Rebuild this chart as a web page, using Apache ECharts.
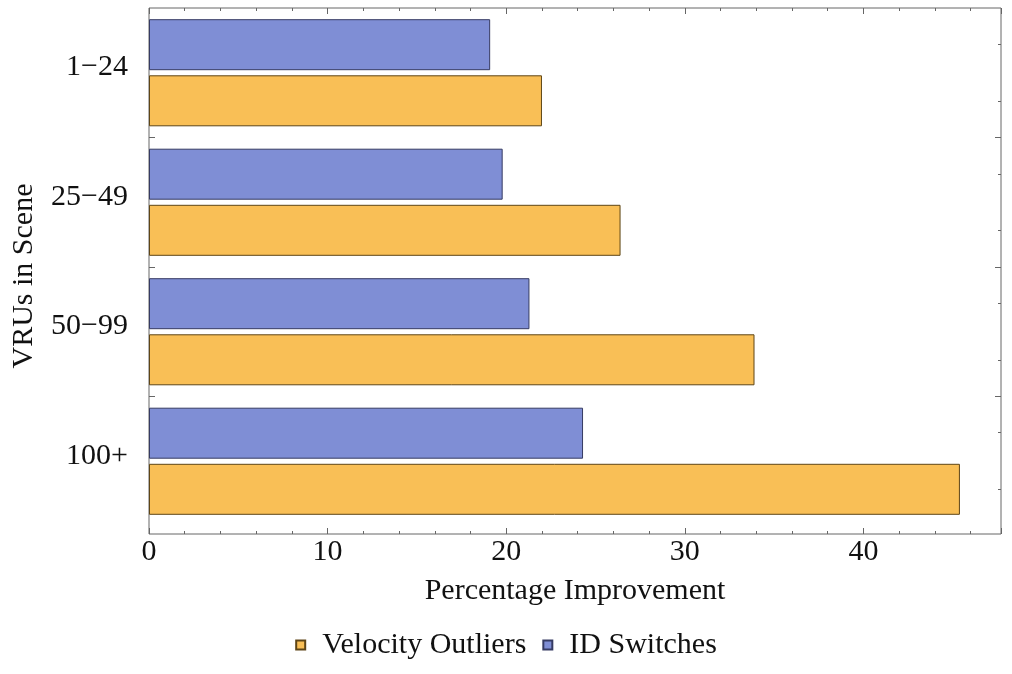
<!DOCTYPE html>
<html>
<head>
<meta charset="utf-8">
<script src="https://cdn.jsdelivr.net/npm/echarts@6/dist/echarts.min.js"></script>
<style>
html,body{margin:0;padding:0;background:#fff;}
#chartImg{width:1012px;height:674px;}
</style>
</head>
<body>
<div id="chartImg"></div>
<script>
var categories = ["1\u221224", "25\u221249", "50\u221299", "100+"];
var velocityOutliers = [22.0, 26.4, 33.9, 45.4];
var idSwitches = [19.1, 19.8, 21.3, 24.3];
var xTicks = [0, 10, 20, 30, 40];
var xMax = 47.7;

// y frame ticks, in group units from the top of the frame
var groupTicks = [1, 2, 3];
var barTicks = [0.28, 0.72, 1.28, 1.72, 2.28, 2.72, 3.28, 3.72];
var yMax = 4.062;

var font = "Liberation Serif";
var tickStyle = {color: '#666', width: 1};

function yTickAxis(pos, values, len) {
    return {
        type: 'value', gridIndex: 1, position: pos, inverse: true,
        min: 0, max: yMax,
        axisLine: {show: false, onZero: false},
        axisTick: {show: true, inside: true, length: len, lineStyle: tickStyle, customValues: values},
        axisLabel: {show: false},
        splitLine: {show: false}
    };
}

var myChart = echarts.init(document.getElementById('chartImg'));
var option = {
    animation: false,
    textStyle: {fontFamily: font},
    legend: {
        data: ['Velocity Outliers', 'ID Switches'],
        bottom: 9,
        left: 'center',
        itemWidth: 9,
        itemHeight: 9,
        itemGap: 16,
        icon: 'rect',
        textStyle: {fontFamily: font, fontSize: 30, color: '#111', padding: [0, 0, 0, 12]}
    },
    grid: [
        // bars live here; a bit shorter than the frame, like the plot padding
        {left: 149, right: 11, top: 8, height: 518},
        // frame + ticks
        {left: 149, right: 11, top: 8, bottom: 140, show: true, borderColor: '#666', borderWidth: 1}
    ],
    xAxis: [
        {type: 'value', gridIndex: 0, min: 0, max: xMax, show: false},
        {
            type: 'value',
            gridIndex: 1,
            min: 0,
            max: xMax,
            interval: 10,
            axisLine: {show: false, onZero: false},
            axisTick: {show: true, inside: true, length: 6, lineStyle: tickStyle},
            minorTick: {show: true, splitNumber: 5, length: 3, lineStyle: tickStyle},
            splitLine: {show: false},
            axisLabel: {
                fontFamily: font, fontSize: 30, color: '#111', margin: 3,
                formatter: function (v) { return xTicks.indexOf(v) >= 0 ? v : ''; },
                showMaxLabel: false
            },
            name: 'Percentage Improvement',
            nameLocation: 'middle',
            nameGap: 42,
            nameTextStyle: {fontFamily: font, fontSize: 30, color: '#111'}
        },
        {
            type: 'value',
            gridIndex: 1,
            position: 'top',
            min: 0,
            max: xMax,
            interval: 10,
            axisLine: {show: false, onZero: false},
            axisTick: {show: true, inside: true, length: 6, lineStyle: tickStyle},
            minorTick: {show: true, splitNumber: 5, length: 3, lineStyle: tickStyle},
            splitLine: {show: false},
            axisLabel: {show: false}
        }
    ],
    yAxis: [
        {
            type: 'category',
            gridIndex: 0,
            data: categories,
            inverse: true,
            axisLine: {show: false, onZero: false},
            axisTick: {show: false},
            axisLabel: {
                margin: 21,
                formatter: function (v) { return '{c|' + v + '}'; },
                rich: {c: {fontFamily: font, fontSize: 30, color: '#111', padding: [0, 0, 11, 0]}}
            }
        },
        Object.assign(yTickAxis('left', groupTicks, 6), {
            name: 'VRUs in Scene',
            nameLocation: 'middle',
            nameGap: 110,
            nameRotate: 90,
            nameTextStyle: {fontFamily: font, fontSize: 30, color: '#111', padding: [0, 10, 0, 0]}
        }),
        yTickAxis('left', barTicks, 3),
        yTickAxis('right', groupTicks, 6),
        yTickAxis('right', barTicks, 3)
    ],
    series: [
        {
            name: 'ID Switches',
            type: 'bar',
            data: idSwitches,
            barWidth: 51,
            barGap: '10%',
            itemStyle: {color: '#7f8ed5', borderColor: '#363b63', borderWidth: 1}
        },
        {
            name: 'Velocity Outliers',
            type: 'bar',
            data: velocityOutliers,
            barWidth: 51,
            barGap: '10%',
            itemStyle: {color: '#f9bf56', borderColor: '#5e4516', borderWidth: 1}
        }
    ]
};
myChart.setOption(option);
</script>
</body>
</html>
